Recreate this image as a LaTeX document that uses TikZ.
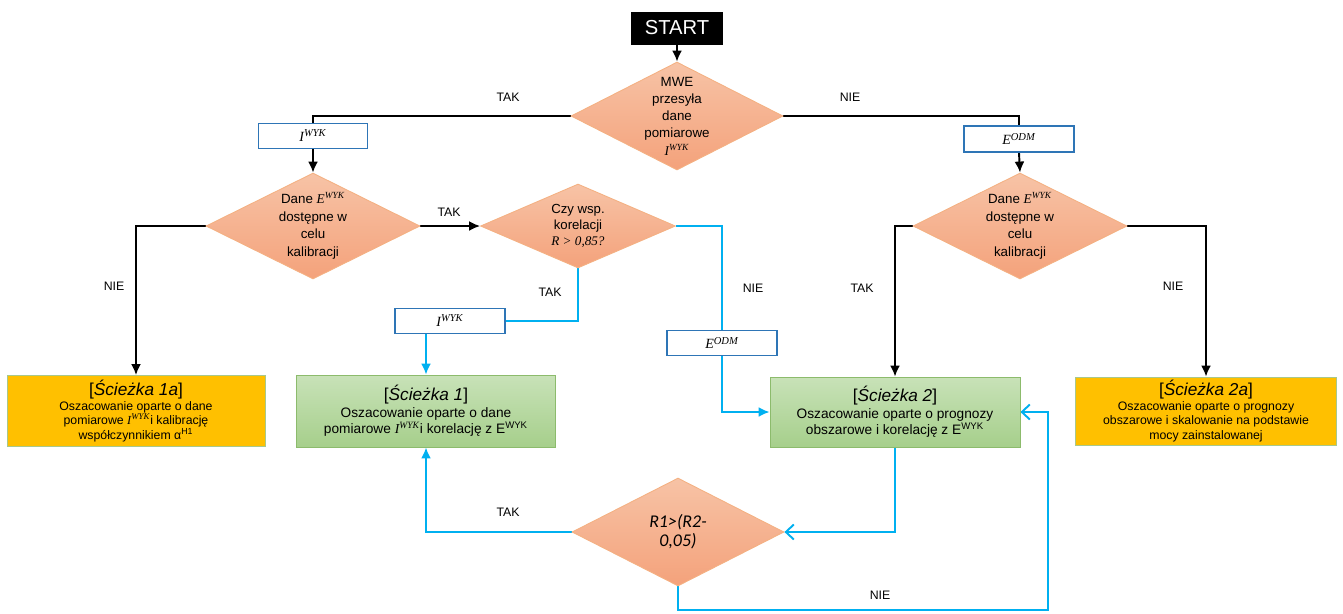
\documentclass[tikz,border=0pt]{standalone}
\usepackage{fontspec}
\setmainfont{Liberation Sans}
\newfontfamily\serifit{Liberation Serif}
\newfontfamily\calibri{Carlito}
\usepackage{tikz}
\usetikzlibrary{arrows.meta,positioning,shapes.geometric,backgrounds}
\definecolor{FlowSalmonTop}{HTML}{F7C3A6}
\definecolor{FlowSalmonBot}{HTML}{F4A27B}
\definecolor{FlowSalmonEdge}{HTML}{F4B183}
\definecolor{FlowGreenTop}{HTML}{C8E2B8}
\definecolor{FlowGreenBot}{HTML}{A6CF8B}
\definecolor{FlowGreenEdge}{HTML}{8CBB6C}
\definecolor{FlowGold}{HTML}{FFC000}
\definecolor{FlowGoldEdge}{HTML}{A8C88C}
\definecolor{FlowBlue}{HTML}{2E75B6}
\definecolor{FlowCyan}{HTML}{00B0F0}
\newcommand{\Iwyk}{{\serifit\itshape I\textsuperscript{WYK}}}
\newcommand{\Ewyk}{{\serifit\itshape E\textsuperscript{WYK}}}
\newcommand{\Eodm}{{\serifit\itshape E\textsuperscript{ODM}}}
\newcommand{\pathhead}[1]{{\fontsize{9.8}{11}\selectfont[\textit{#1}]}}
\tikzset{
  startbox/.style={fill=black, text=white, minimum width=1.86cm, minimum height=0.66cm,
    inner sep=0pt, font=\fontsize{11.5}{13}\selectfont},
  decision/.style={diamond, draw=FlowSalmonEdge, line width=0.5pt,
    top color=FlowSalmonTop, bottom color=FlowSalmonBot, inner sep=0pt},
  decisiontext/.style={align=center, inner sep=0pt, font=\fontsize{7.6}{10}\selectfont},
  varbox/.style={draw=FlowBlue, line width=1pt, fill=white, minimum width=2.18cm,
    minimum height=0.5cm, inner sep=0pt, font=\fontsize{8}{9}\selectfont},
  pathmain/.style={draw=FlowGreenEdge, line width=0.5pt, top color=FlowGreenTop,
    bottom color=FlowGreenBot, align=center, inner sep=0pt, font=\fontsize{7.8}{9.4}\selectfont},
  pathalt/.style={draw=FlowGoldEdge, line width=0.5pt, fill=FlowGold,
    align=center, inner sep=0pt, font=\fontsize{7}{8.4}\selectfont},
  wire/.style={-{Latex[length=2.2mm, width=2mm]}, line width=1.1pt},
  bluewire/.style={wire, draw=FlowCyan},
  backwire/.style={-{Straight Barb[length=1.6mm, width=3mm]}, line width=1.1pt, draw=FlowCyan},
  answer/.style={font=\fontsize{7}{8}\selectfont, inner sep=1pt}
}
\begin{document}
\begin{tikzpicture}[x=0.02cm, y=-0.02cm]
  \useasboundingbox (0,0) rectangle (1343,613);
  \node[startbox] (start) at (677,28) {START};
  \node[decision, minimum width=4.24cm, minimum height=2.16cm,
    label={[decisiontext, font=\fontsize{7.6}{9.8}\selectfont]center:MWE\\przesyła\\dane\\pomiarowe\\\Iwyk}] (mwe) at (677,116) {};
  \node[varbox] (iwykA) at (313,136) {\Iwyk};
  \node[varbox, minimum width=2.2cm, minimum height=0.52cm] (eodmA) at (1019,139) {\Eodm};
  \node[decision, minimum width=4.28cm, minimum height=2.12cm,
    label={[decisiontext]center:Dane \Ewyk\\dostępne w\\celu\\kalibracji}] (calibL) at (313,226) {};
  \node[decision, minimum width=4.28cm, minimum height=2.12cm,
    label={[decisiontext]center:Dane \Ewyk\\dostępne w\\celu\\kalibracji}] (calibR) at (1020,226) {};
  \node[decision, minimum width=3.9cm, minimum height=1.68cm,
    label={[decisiontext, font=\fontsize{7.5}{9}\selectfont]center:Czy wsp.\\korelacji\\{\serifit\itshape R > 0,85?}}] (corr) at (578,226) {};
  \node[varbox, minimum width=2.2cm] (iwykB) at (450,321) {\Iwyk};
  \node[varbox, minimum width=2.2cm] (eodmB) at (722,343) {\Eodm};
  \node[pathalt, minimum width=5.16cm, minimum height=1.42cm] (path1a) at (136,411)
    {\pathhead{Ścieżka 1a}\\Oszacowanie oparte o dane\\pomiarowe \Iwyk i kalibrację\\współczynnikiem α\textsuperscript{H1}};
  \node[pathmain, minimum width=5.18cm, minimum height=1.44cm] (path1) at (426,411)
    {\pathhead{Ścieżka 1}\\Oszacowanie oparte o dane\\pomiarowe \Iwyk i korelację z E\textsuperscript{WYK}};
  \node[pathmain, minimum width=5cm, minimum height=1.4cm] (path2) at (895,412)
    {\pathhead{Ścieżka 2}\\Oszacowanie oparte o prognozy\\obszarowe i korelację z E\textsuperscript{WYK}};
  \node[pathalt, minimum width=5.22cm, minimum height=1.36cm] (path2a) at (1206,411)
    {\pathhead{Ścieżka 2a}\\Oszacowanie oparte o prognozy\\obszarowe i skalowanie na podstawie\\mocy zainstalowanej};
  \node[decision, minimum width=4.24cm, minimum height=2.16cm,
    label={[decisiontext, font=\calibri\itshape\fontsize{10.2}{11}\selectfont]center:R1>(R2-\\0,05)}] (compare) at (678,532) {};
  \coordinate (loop) at (1048,610);
  % connectors
  \begin{scope}[on background layer]
    \draw[wire] (start) -- (mwe.north);
    \draw[line width=1.1pt] (mwe.west) -| (iwykA.north);
    \draw[wire] (iwykA.south) -- (calibL.north);
    \draw[line width=1.1pt] (mwe.east) -| (eodmA.north);
    \draw[wire] (eodmA.south) -- (calibR.north);
    \draw[wire] (calibL.west) -| (path1a.north);
    \draw[wire] (calibL.east) -- (corr.west);
    \draw[line width=1.1pt, draw=FlowCyan] (corr.south) |- (iwykB.east);
    \draw[bluewire] (path1.north |- iwykB.south) -- (path1.north);
    \draw[line width=1.1pt, draw=FlowCyan] (corr.east) -| (eodmB.north);
    \draw[bluewire] (eodmB.south) |- (path2.west);
    \draw[wire] (calibR.west) -| (path2.north);
    \draw[wire] (calibR.east) -| (path2a.north);
    \draw[backwire] (path2.south) |- (compare.east);
    \draw[bluewire] (compare.west) -| (path1.south);
    \draw[backwire] (compare.south) |- (loop) |- (path2.east);
  \end{scope}
  % answers
  \node[answer] (yesA) at (508,97) {TAK};
  \node[answer] (noA) at (850,97) {NIE};
  \node[answer] (noB) at (114,286) {NIE};
  \node[answer] (yesB) at (449,212) {TAK};
  \node[answer] (yesC) at (550,292) {TAK};
  \node[answer] (noC) at (753,288) {NIE};
  \node[answer] (yesD) at (862,288) {TAK};
  \node[answer] (noD) at (1173,286) {NIE};
  \node[answer] (yesE) at (508,512) {TAK};
  \node[answer] (noE) at (880,595) {NIE};
\end{tikzpicture}
\end{document}
